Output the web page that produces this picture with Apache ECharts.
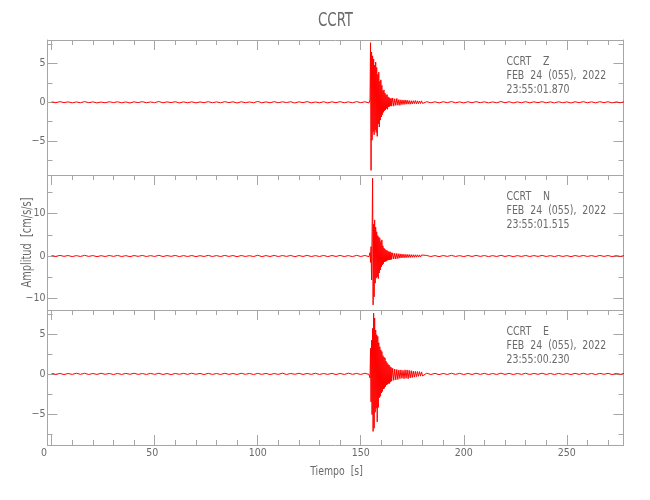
<!DOCTYPE html>
<html>
<head>
<meta charset="utf-8">
<script src="https://cdn.jsdelivr.net/npm/echarts@6/dist/echarts.min.js"></script>
<style>html,body{margin:0;padding:0;background:#fff}#c{width:650px;height:500px}</style>
</head>
<body>
<div id="c"></div>
<script>
// ---- data (seconds from start, amplitude in cm/s/s) ----
const timeS = [
  0,2,4,6,8,10,12,14,16,18, 20,22,24,26,28,30,32,34,36,38,
  40,42,44,46,48,50,52,54,56,58, 60,62,64,66,68,70,72,74,76,78,
  80,82,84,86,88,90,92,94,96,98, 100,102,104,106,108,110,112,114,116,118,
  120,122,124,126,128,130,132,134,136,138, 140,142,144,146,148,150,152,154,
  154.5,154.75,155,155.25,155.5,155.75,156,156.25,156.5,156.75,
  157,157.25,157.5,157.75,158,158.25,158.5,158.75,159,159.25,
  159.5,159.75,160,160.25,160.5,160.75,161,161.25,161.5,161.75,
  162,162.25,162.5,162.75,163,163.25,163.5,163.75,164,164.25,
  164.5,164.75,165,
  165.5,166,166.5,167,167.5,168,168.5,169,169.5,170,
  170.5,171,171.5,172,172.5,173,173.5,174,174.5,175,
  175.5,176,176.5,177,177.5,178,178.5,179,179.5,180,
  182,184,186,188,190,192,194,196,198,200, 202,204,206,208,210,212,214,216,218,220,
  222,224,226,228,230,232,234,236,238,240, 242,244,246,248,250,252,254,256,258,260,
  262,264,266,268,270,272,274,276,278
];
const ampZ = [
  0.06,-0.05,0.08,-0.04,0.05,-0.07,0.04,-0.06,0.09,-0.05,
  0.05,-0.08,0.03,-0.06,0.07,-0.04,0.06,-0.07,0.05,-0.09,
  0.06,-0.04,0.08,-0.06,0.04,-0.05,0.10,-0.06,0.05,-0.04,
  0.07,-0.08,0.05,-0.06,0.06,-0.07,0.04,-0.05,0.08,-0.06,
  0.05,-0.07,0.08,-0.04,0.06,-0.09,0.07,-0.05,0.04,-0.06,
  0.11,-0.07,0.05,-0.06,0.08,-0.06,0.06,-0.04,0.07,-0.09,
  0.06,-0.05,0.09,-0.07,0.04,-0.06,0.07,-0.08,0.06,-0.05,
  0.08,-0.06,0.05,-0.07,0.09,-0.06,0.07,-0.08,
  0.3,7.7,-8.8,6.5,-4.9,6.0,-3.8,5.6,-4.2,4.8,
  -3.6,5.2,-3.9,4.5,-4.4,3.6,-2.8,3.9,-3.2,2.7,
  -2.3,2.9,-1.9,2.2,-1.6,1.5,-1.3,1.6,-1.1,1.2,
  -1.0,0.95,-0.8,1.0,-0.9,0.7,-0.6,0.6,-0.55,0.5,
  -0.45,0.5,-0.5,
  0.55,-0.5,0.45,-0.4,0.5,-0.38,0.35,-0.4,0.32,-0.3,
  0.3,-0.28,0.3,-0.25,0.27,-0.24,0.22,-0.25,0.2,-0.22,
  0.2,-0.18,0.22,-0.2,0.18,-0.2,0.17,-0.16,0.18,-0.15,
  0.08,-0.07,0.06,-0.08,0.07,-0.05,0.09,-0.06,0.05,-0.08,
  0.07,-0.06,0.08,-0.05,0.06,-0.08,0.05,-0.07,0.10,-0.06,
  0.07,-0.08,0.05,-0.06,0.08,-0.07,0.06,-0.05,0.08,-0.07,
  0.05,-0.08,0.07,-0.06,0.05,-0.09,0.07,-0.05,0.08,-0.06,
  0.06,-0.07,0.08,-0.05,0.07,-0.08,0.05,-0.06,0.07
];
const ampN = [
  0.12,-0.10,0.15,-0.08,0.11,-0.13,0.09,-0.11,0.16,-0.09,
  0.10,-0.14,0.08,-0.11,0.13,-0.09,0.14,-0.12,0.09,-0.15,
  0.11,-0.08,0.14,-0.12,0.09,-0.10,0.17,-0.12,0.10,-0.08,
  0.14,-0.14,0.10,-0.11,0.12,-0.14,0.08,-0.10,0.15,-0.11,
  0.10,-0.12,0.14,-0.09,0.11,-0.15,0.12,-0.10,0.08,-0.12,
  0.18,-0.14,0.10,-0.11,0.14,-0.12,0.11,-0.09,0.14,-0.16,
  0.11,-0.10,0.15,-0.12,0.09,-0.11,0.14,-0.14,0.12,-0.10,
  0.14,-0.12,0.10,-0.14,0.16,-0.11,0.12,-0.15,
  0.8,-1.5,2.2,-5.6,5.7,18.3,-11.5,7.5,-9.6,8.5,
  -6.4,6.8,-5.2,5.7,-4.9,4.8,-5.3,4.5,-4.0,4.2,
  -3.3,3.4,-2.6,3.8,-2.1,2.4,-1.8,1.9,-1.4,1.6,
  -1.3,1.4,-1.2,1.3,-1.0,1.1,-0.95,1.0,-0.9,1.0,
  -0.85,0.8,-0.8,
  0.75,-0.7,0.65,-0.7,0.6,-0.6,0.55,-0.5,0.5,-0.45,
  0.45,-0.42,0.4,-0.4,0.38,-0.35,0.35,-0.33,0.32,-0.3,
  0.3,-0.3,0.28,-0.27,0.28,-0.25,0.26,-0.24,0.25,-0.22,
  0.13,-0.12,0.10,-0.14,0.11,-0.09,0.15,-0.10,0.09,-0.13,
  0.12,-0.10,0.14,-0.09,0.11,-0.13,0.09,-0.11,0.16,-0.10,
  0.11,-0.14,0.09,-0.10,0.13,-0.12,0.10,-0.09,0.14,-0.11,
  0.09,-0.13,0.12,-0.10,0.09,-0.14,0.11,-0.09,0.13,-0.10,
  0.10,-0.12,0.14,-0.09,0.11,-0.13,0.09,-0.10,0.12
];
const ampE = [
  0.07,-0.06,0.06,-0.08,0.05,-0.06,0.08,-0.05,0.07,-0.07,
  0.05,-0.06,0.08,-0.05,0.06,-0.08,0.06,-0.07,0.07,-0.05,
  0.08,-0.06,0.05,-0.07,0.07,-0.06,0.08,-0.07,0.05,-0.09,
  0.06,-0.05,0.07,-0.06,0.09,-0.05,0.06,-0.08,0.07,-0.06,
  0.05,-0.07,0.08,-0.06,0.05,-0.07,0.08,-0.05,0.06,-0.08,
  0.07,-0.06,0.07,-0.08,0.05,-0.06,0.09,-0.07,0.06,-0.05,
  0.08,-0.07,0.06,-0.06,0.08,-0.07,0.05,-0.06,0.07,-0.08,
  0.06,-0.07,0.09,-0.05,0.06,-0.07,0.08,-0.06,
  -0.5,3.2,-3.5,4.2,-5.1,5.7,-7.2,7.6,-6.8,7.0,
  -4.8,5.5,-4.3,4.9,-6.0,4.7,-4.2,3.9,-3.0,3.4,
  -2.8,3.0,-2.4,2.8,-2.2,2.3,-1.9,2.1,-1.8,2.0,
  -1.6,1.6,-1.4,1.4,-1.3,1.2,-1.2,1.1,-1.2,0.9,
  -1.0,0.8,-0.9,
  0.7,-0.8,0.6,-0.75,0.55,-0.7,0.5,-0.6,0.5,-0.55,
  0.45,-0.6,0.5,-0.55,0.5,-0.6,0.45,-0.5,0.4,-0.45,
  0.35,-0.4,0.32,-0.35,0.3,-0.3,0.28,-0.28,0.25,-0.25,
  0.09,-0.08,0.07,-0.09,0.06,-0.07,0.08,-0.06,0.07,-0.08,
  0.06,-0.07,0.08,-0.06,0.07,-0.08,0.05,-0.07,0.09,-0.06,
  0.07,-0.08,0.06,-0.06,0.08,-0.07,0.06,-0.05,0.08,-0.07,
  0.06,-0.08,0.07,-0.06,0.05,-0.08,0.07,-0.06,0.08,-0.06,
  0.06,-0.08,0.07,-0.05,0.07,-0.08,0.06,-0.06,0.08
];
const station = 'CCRT';
const components = ['Z', 'N', 'E'];
const dateText = 'FEB  24  (055),  2022';
const startTimes = ['23:55:01.870', '23:55:01.515', '23:55:00.230'];
const xTitle = 'Tiempo  [s]';
const yTitle = 'Amplitud  [cm/s/s]';
const xRange = [-2, 277.5];
const xMajor = [0, 50, 100, 150, 200, 250];
const xMinor = [10,20,30,40,60,70,80,90,110,120,130,140,160,170,180,190,210,220,230,240,260,270];
const yRanges = [[-9.4, 8.05], [-12.7, 19.06], [-8.9, 8.0]];
const yMajor = [[-5, 0, 5], [-10, 0, 10], [-5, 0, 5]];
const yMinor = [[-7.5, -2.5, 2.5, 7.5], [-5, 5, 15], [-7.5, -2.5, 2.5, 7.5]];
const amps = [ampZ, ampN, ampE];

// ---- layout / style ----
const FONT = "'Liberation Sans Narrow','DejaVu Sans Condensed','Liberation Sans',sans-serif";
const AX = '#a6a6a6', TX = '#6a6a6a';
const L = 47.5, R = 26.5, H = 135, tops = [40, 175, 310];
const fmt = v => (v < 0 ? '\u2212' + (-v) : String(v));
// the first two time labels sit slightly left of their ticks in the original
const fmtX = v => (v === 0 ? '{p15|0}' : v === 50 ? '{p5|50}' : String(v));
const labelFont = { color: TX, fontSize: 10.5, fontFamily: FONT };

const grid = [], xAxis = [], yAxis = [], series = [], graphic = [];
for (let k = 0; k < 2; k++) for (let i = 0; i < 3; i++)
  grid.push({ left: L, right: R, top: tops[i], height: H, show: false, outerBoundsMode: 'none' });

function xAx(g, pos, ticks, len, line, label) {
  xAxis.push({
    type: 'value', gridIndex: g, position: pos, min: xRange[0], max: xRange[1],
    axisLine: { show: line, onZero: false, lineStyle: { color: AX, width: 1 } },
    axisTick: { show: !!ticks, inside: true, length: len, customValues: ticks || [], lineStyle: { color: AX, width: 1 } },
    axisLabel: label ? Object.assign({
      show: true, customValues: xMajor, formatter: fmtX, margin: 3,
      rich: {
        p15: Object.assign({ padding: [0, 15, 0, 0] }, labelFont),
        p5: Object.assign({ padding: [0, 5, 0, 0] }, labelFont)
      }
    }, labelFont) : { show: false },
    splitLine: { show: false }
  });
  return xAxis.length - 1;
}
function yAx(g, i, pos, ticks, len, line, label) {
  yAxis.push({
    type: 'value', gridIndex: g, position: pos, min: yRanges[i][0], max: yRanges[i][1],
    axisLine: { show: line, onZero: false, lineStyle: { color: AX, width: 1 } },
    axisTick: { show: true, inside: true, length: len, customValues: ticks, lineStyle: { color: AX, width: 1 } },
    axisLabel: label ? Object.assign({ show: true, customValues: yMajor[i], formatter: fmt, margin: 2 }, labelFont) : { show: false },
    splitLine: { show: false }
  });
  return yAxis.length - 1;
}

for (let i = 0; i < 3; i++) {
  const last = i === 2;
  const xb = xAx(i, 'bottom', last ? xMajor : null, 10, true, last);
  xAx(i, 'top', xMajor, 10, true, false);
  xAx(3 + i, 'bottom', last ? xMinor : null, 5, false, false);
  xAx(3 + i, 'top', xMinor, 5, false, false);
  const yl = yAx(i, i, 'left', yMajor[i], 10, true, true);
  yAx(i, i, 'right', yMajor[i], 10, true, false);
  yAx(3 + i, i, 'left', yMinor[i], 5, false, false);
  yAx(3 + i, i, 'right', yMinor[i], 5, false, false);

  series.push({
    type: 'line', xAxisIndex: xb, yAxisIndex: yl,
    data: timeS.map((t, j) => [t, amps[i][j]]),
    showSymbol: false, symbol: 'none', clip: true, sampling: null,
    lineStyle: { color: '#ff0000', width: 1 }, z: 3
  });

  const lines = [station + '    ' + components[i], dateText, startTimes[i]];
  const dy = [21.5, 35.5, 49.5];
  lines.forEach((s, k) => graphic.push({
    type: 'text', x: 506.5, y: tops[i] + dy[k], scaleX: 0.87, z: 10,
    style: { text: s, fill: TX, fontSize: 12, fontFamily: FONT, align: 'left', verticalAlign: 'middle' }
  }));
}
const plotCx = (L + 650 - R) / 2;
graphic.push({
  type: 'text', x: plotCx, y: 21, scaleX: 0.74, z: 10,
  style: { text: station, fill: TX, fontSize: 20, fontFamily: FONT, align: 'center', verticalAlign: 'middle' }
});
graphic.push({
  type: 'text', x: plotCx + 1, y: 471.5, scaleX: 0.8, z: 10,
  style: { text: xTitle, fill: TX, fontSize: 13, fontFamily: FONT, align: 'center', verticalAlign: 'middle' }
});
graphic.push({
  type: 'text', x: 27.5, y: 242.5, rotation: Math.PI / 2, scaleX: 0.78, z: 10,
  style: { text: yTitle, fill: TX, fontSize: 14, fontFamily: FONT, align: 'center', verticalAlign: 'middle' }
});

const chart = echarts.init(document.getElementById('c'), null, { renderer: 'canvas' });
chart.setOption({
  animation: false, backgroundColor: '#ffffff',
  grid, xAxis, yAxis, series, graphic
});
</script>
</body>
</html>
